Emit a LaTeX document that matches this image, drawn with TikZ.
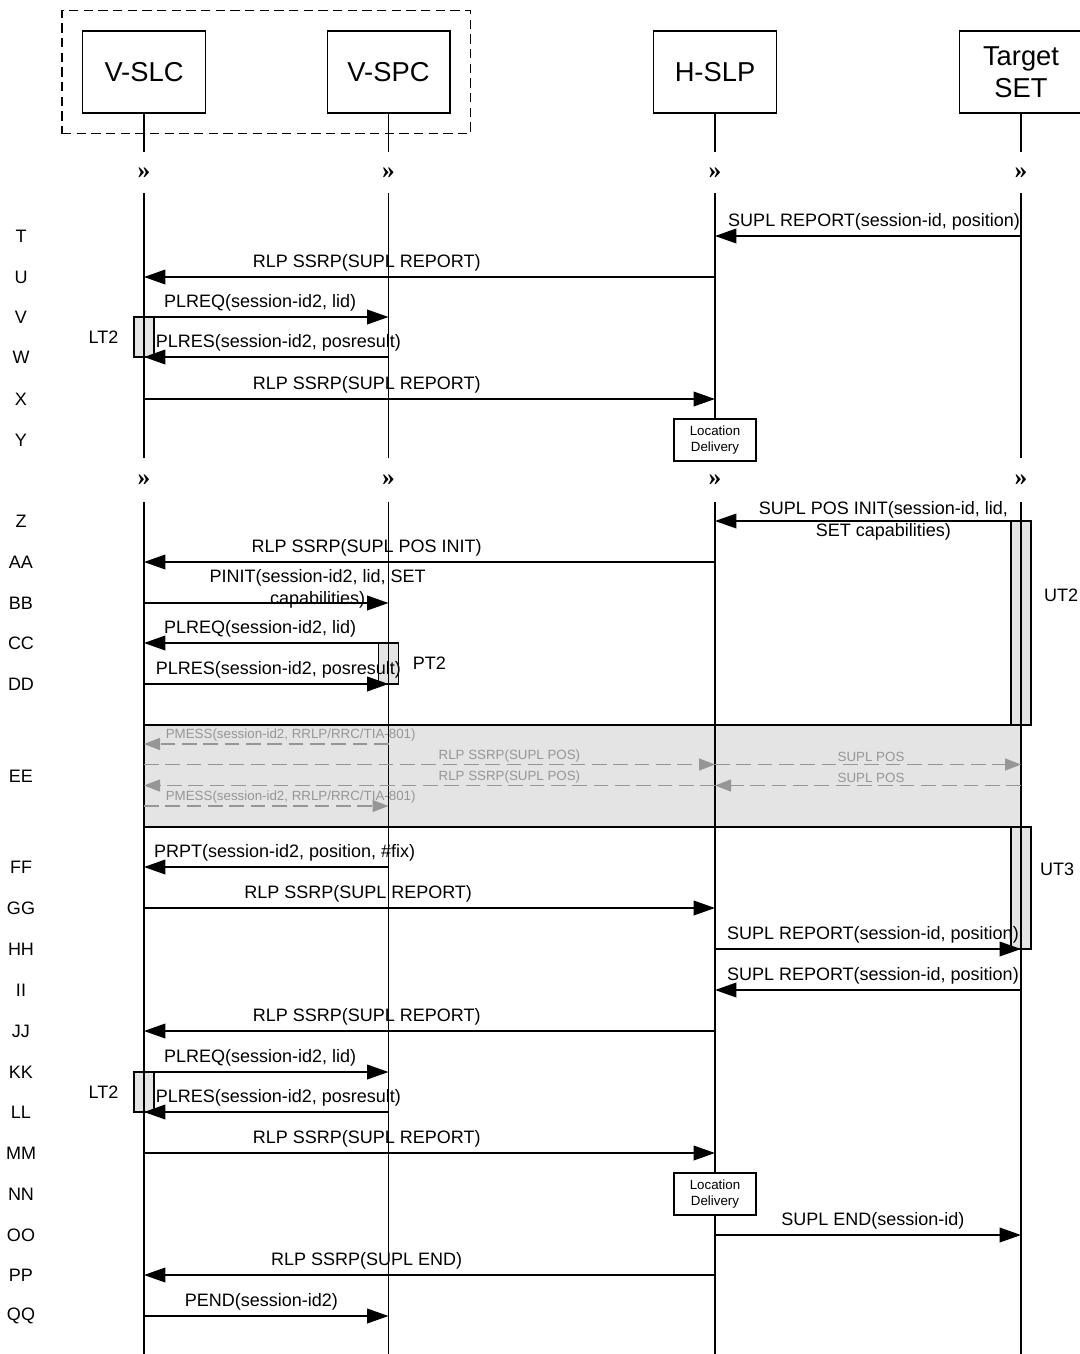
\documentclass[tikz,border=0pt]{standalone}
\usepackage{fontspec}
\setmainfont{Liberation Sans}
\newfontfamily\brkfont{Liberation Serif}
\usetikzlibrary{arrows.meta,positioning,fit}
\definecolor{seqGray}{HTML}{969696}
\definecolor{seqShade}{HTML}{E4E4E4}
\tikzset{
  entity/.style={draw, line width=1pt, minimum width=92pt, minimum height=61.5pt,
    align=center, inner sep=0pt, font=\fontsize{20.5}{24}\selectfont},
  life/.style={line width=1.1pt},
  msg/.style={-{Triangle[length=16pt,width=11pt]}, line width=1.1pt},
  pmsg/.style={-{Triangle[length=12pt,width=9pt]}, line width=1pt,
    draw=seqGray, dash pattern=on 11pt off 5pt},
  msg label/.style={font=\fontsize{13.5}{16}\selectfont, align=center, inner sep=4pt},
  pmsg label/.style={font=\fontsize{10}{12}\selectfont, text=seqGray, inner sep=1.5pt},
  row label/.style={font=\fontsize{13.5}{16}\selectfont},
  timer/.style={draw, line width=1pt, fill=seqShade, inner xsep=7.5pt, inner ysep=0pt},
  note box/.style={draw, line width=1pt, fill=white, minimum width=61.5pt,
    minimum height=31.5pt, align=center, inner sep=0pt, font=\fontsize{10}{12}\selectfont},
  break mark/.style={font=\brkfont\bfseries\fontsize{19}{19}\selectfont, inner sep=0pt}
}

\begin{document}
\begin{tikzpicture}[x=0.75pt,y=-0.75pt]
  \useasboundingbox (0,0) rectangle (1079,1354);
  % entities
  \node[entity] (slc) at (144,72) {V-SLC};
  \node[entity] (spc) at (388.5,72) {V-SPC};
  \node[entity] (hslp) at (715,72) {H-SLP};
  \node[entity] (set) at (1021,72) {Target\\SET};
  \node[draw, line width=1pt, dash pattern=on 7pt off 4pt, fit=(slc)(spc), inner sep=15pt] (visited) {};
  % step letters
  \foreach \n/\y in {T/236,U/277,V/317,W/357,X/399,Y/440,Z/521,AA/562,BB/603,CC/643,DD/684,
                     EE/776,FF/867,GG/908,HH/949,II/990,JJ/1031,KK/1072,LL/1112,MM/1153,
                     NN/1194,OO/1235,PP/1275,QQ/1316}
    \node[row label] (r\n) at (21,\y) {\n};
  \coordinate (cutA) at (0,152);
  \coordinate (brkA) at (0,173);
  \coordinate (cutB) at (0,193);
  \coordinate (cutC) at (0,458);
  \coordinate (brkB) at (0,480);
  \coordinate (cutD) at (0,502);
  \coordinate (cutE) at (0,1354);
  \coordinate (eeTop) at (0,725);
  \coordinate (ee1) at (0,744);
  \coordinate (ee2) at (0,764.5);
  \coordinate (ee3) at (0,785.5);
  \coordinate (ee4) at (0,806);
  \coordinate (eeBot) at (0,827);
  % timers and positioning exchange
  \node[timer, fit=(slc |- rV)(slc |- rW)] (lt2a) {};
  \node[msg label, left=7pt of lt2a] (lt2aLbl) {LT2};
  \node[timer, fit=(spc |- rCC)(spc |- rDD)] (pt2) {};
  \node[msg label, right=6pt of pt2] (pt2Lbl) {PT2};
  \node[timer, fit=(set |- rZ)(set |- eeTop)] (ut2) {};
  \node[msg label] (ut2Lbl) at (1061,595) {UT2};
  \node[timer, fit=(set |- eeBot)(set |- rHH)] (ut3) {};
  \node[msg label] (ut3Lbl) at (1057,869) {UT3};
  \node[timer, fit=(slc |- rKK)(slc |- rLL)] (lt2b) {};
  \node[msg label, left=7pt of lt2b] (lt2bLbl) {LT2};
  \node[draw, line width=1pt, fill=seqShade, inner sep=0pt, fit=(slc |- eeTop)(set |- eeBot)] (posExchange) {};
  \node[note box] (loc1) at (hslp |- rY) {Location\\Delivery};
  % lifelines
  \foreach \p in {slc,spc,hslp,set}{
    \draw[life] (\p.south) -- (\p |- cutA);
    \node[break mark] (brkA\p) at (\p |- brkA) {»};
    \node[break mark] (brkB\p) at (\p |- brkB) {»};
    \draw[life] (\p |- cutD) -- (\p |- cutE);
  }
  \foreach \p in {slc,spc,set}
    \draw[life] (\p |- cutB) -- (\p |- cutC);
  \draw[life] (hslp |- cutB) -- (loc1.north);
  \node[note box] (loc2) at (hslp |- rNN) {Location\\Delivery};
  % messages
  \draw[msg] (set |- rT) -- node[msg label, above, pos=.48] {SUPL REPORT(session-id, position)} (hslp |- rT);
  \draw[msg] (hslp |- rU) -- node[msg label, above, pos=.61] {RLP SSRP(SUPL REPORT)} (slc |- rU);
  \draw[msg] (slc |- rV) -- node[msg label, above, pos=.475] {PLREQ(session-id2, lid)} (spc |- rV);
  \draw[msg] (spc |- rW) -- node[msg label, above, pos=.45] {PLRES(session-id2, posresult)} (slc |- rW);
  \draw[msg] (slc |- rX) -- node[msg label, above, pos=.39] {RLP SSRP(SUPL REPORT)} (hslp |- rX);
  \draw[msg] (set |- rZ) -- node[msg label, pos=.45] {SUPL POS INIT(session-id, lid,\\SET capabilities)} (hslp |- rZ);
  \draw[msg] (hslp |- rAA) -- node[msg label, above, pos=.61] {RLP SSRP(SUPL POS INIT)} (slc |- rAA);
  \draw[msg] (slc |- rBB) -- node[msg label, pos=.71, yshift=10.5pt] {PINIT(session-id2, lid, SET\\capabilities)} (spc |- rBB);
  \draw[msg] (spc |- rCC) -- node[msg label, above, pos=.525] {PLREQ(session-id2, lid)} (slc |- rCC);
  \draw[msg] (slc |- rDD) -- node[msg label, above, pos=.55] {PLRES(session-id2, posresult)} (spc |- rDD);
  % positioning exchange
  \draw[pmsg] (spc |- ee1) -- node[pmsg label, above, pos=.4] {PMESS(session-id2, RRLP/RRC/TIA-801)} (slc |- ee1);
  \draw[pmsg] (slc |- ee2) -- node[pmsg label, above, pos=.64] {RLP SSRP(SUPL POS)} (hslp |- ee2);
  \draw[pmsg] (hslp |- ee2) -- node[pmsg label, above, pos=.51] {SUPL POS} (set |- ee2);
  \draw[pmsg] (hslp |- ee3) -- node[pmsg label, above, pos=.36] {RLP SSRP(SUPL POS)} (slc |- ee3);
  \draw[pmsg] (set |- ee3) -- node[pmsg label, above, pos=.49] {SUPL POS} (hslp |- ee3);
  \draw[pmsg] (slc |- ee4) -- node[pmsg label, above, pos=.6] {PMESS(session-id2, RRLP/RRC/TIA-801)} (spc |- ee4);
  \draw[msg] (spc |- rFF) -- node[msg label, above, pos=.425] {PRPT(session-id2, position, \#fix)} (slc |- rFF);
  \draw[msg] (slc |- rGG) -- node[msg label, above, pos=.375] {RLP SSRP(SUPL REPORT)} (hslp |- rGG);
  \draw[msg] (hslp |- rHH) -- node[msg label, above, pos=.516] {SUPL REPORT(session-id, position)} (set |- rHH);
  \draw[msg] (set |- rII) -- node[msg label, above, pos=.484] {SUPL REPORT(session-id, position)} (hslp |- rII);
  \draw[msg] (hslp |- rJJ) -- node[msg label, above, pos=.61] {RLP SSRP(SUPL REPORT)} (slc |- rJJ);
  \draw[msg] (slc |- rKK) -- node[msg label, above, pos=.475] {PLREQ(session-id2, lid)} (spc |- rKK);
  \draw[msg] (spc |- rLL) -- node[msg label, above, pos=.45] {PLRES(session-id2, posresult)} (slc |- rLL);
  \draw[msg] (slc |- rMM) -- node[msg label, above, pos=.39] {RLP SSRP(SUPL REPORT)} (hslp |- rMM);
  \draw[msg] (hslp |- rOO) -- node[msg label, above, pos=.516] {SUPL END(session-id)} (set |- rOO);
  \draw[msg] (hslp |- rPP) -- node[msg label, above, pos=.61] {RLP SSRP(SUPL END)} (slc |- rPP);
  \draw[msg] (slc |- rQQ) -- node[msg label, above, pos=.48] {PEND(session-id2)} (spc |- rQQ);
\end{tikzpicture}
\end{document}
